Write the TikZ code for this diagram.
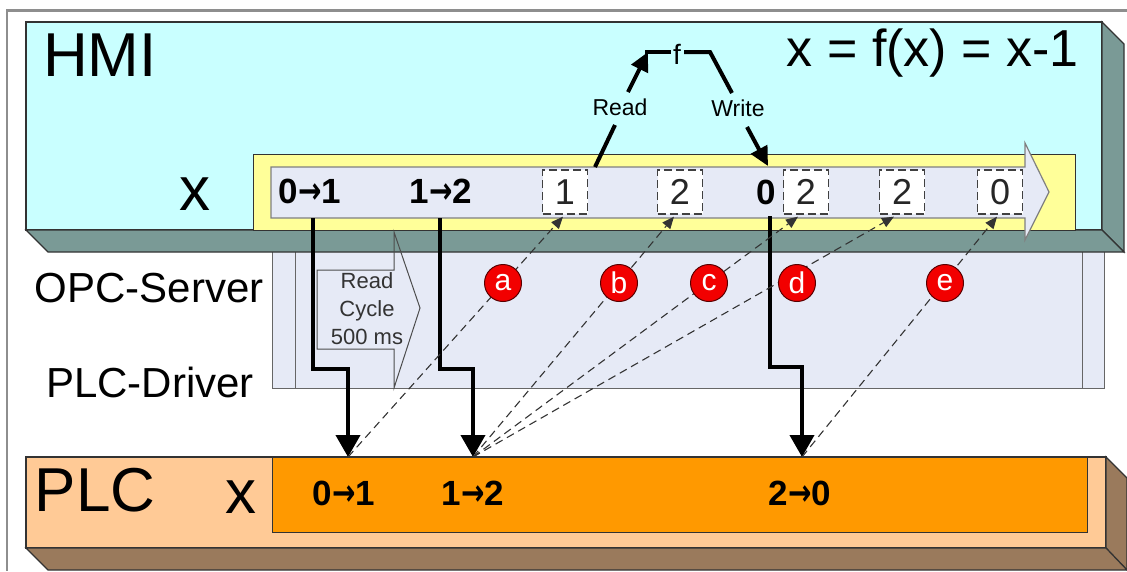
\documentclass[tikz,border=0pt]{standalone}
\usepackage{graphicx}
\usepackage{fontspec}
\setmainfont{Liberation Sans}
\newfontfamily\arrowfont{DejaVu Sans}
\usetikzlibrary{arrows.meta,calc}

\definecolor{hmiface}{HTML}{C9FFFF}
\definecolor{hmiside}{HTML}{7A9A96}
\definecolor{hmiyellow}{HTML}{FFFF99}
\definecolor{lavender}{HTML}{E6EAF6}
\definecolor{plcface}{HTML}{FFCA96}
\definecolor{plcorange}{HTML}{FF9900}
\definecolor{plcside}{HTML}{9A7A5C}
\definecolor{framegray}{HTML}{8E8E8E}
\definecolor{edgecol}{HTML}{333333}
\definecolor{markred}{HTML}{F20000}

\newcommand{\fsz}[1]{\fontsize{#1}{#1}\selectfont}
\newcommand{\tr}{{\arrowfont\bfseries\scalebox{0.8}[1.05]{→}}}

\begin{document}
\begin{tikzpicture}[x=1pt,y=-1pt,
  box edge/.style={draw=edgecol, line width=1.2pt, line join=miter},
  bigtitle/.style={inner sep=0pt, font=\fsz{62}},
  sidelabel/.style={inner sep=0pt, font=\fsz{42}},
  smalllabel/.style={inner sep=0pt, font=\fsz{23}},
  cyclelabel/.style={inner sep=0pt, font=\fsz{22}, text=black!80, anchor=base},
  transition/.style={inner sep=0pt, font=\fsz{35}\bfseries},
  valbox/.style={draw=black!75, dash pattern=on 8pt off 4pt, line width=1.3pt,
    fill=white, minimum width=45pt, minimum height=44pt, inner sep=0pt,
    font=\fsz{36}, text=black!85},
  marker/.style={circle, fill=markred, draw=red!35!black, line width=1pt,
    minimum size=37pt, inner sep=0pt, text=white, font=\fsz{30}},
  flow/.style={line width=4pt, line join=miter, -{Triangle[width=24pt,length=22pt]}},
  rw/.style={line width=4pt},
  rwtip/.style={rw, -{Triangle[width=18pt,length=19pt]}},
  readback/.style={draw=black!80, line width=1.1pt, dash pattern=on 8pt off 5pt,
    -{Triangle[width=10pt,length=12pt]}}
]
\useasboundingbox (0,0) rectangle (1127,571);

% outer frame
\draw[framegray, line width=3pt] (6,10) -- (1127,10);
\draw[framegray, line width=2pt] (7,10) -- (7,571);

% OPC server / PLC driver panel
\draw[fill=lavender, draw=black!60, line width=1pt] (272,246) rectangle (1104,388);
\draw[black!60, line width=1pt] (295,246) -- (295,388) (1082,246) -- (1082,388);

% HMI block
\draw[box edge, fill=hmiface] (26,22) rectangle (1102,230);
\draw[box edge, fill=hmiside] (1102,22) -- (1124,44) -- (1124,252) -- (1102,230) -- cycle;
\draw[box edge, fill=hmiside] (26,230) -- (1102,230) -- (1124,252) -- (48,252) -- cycle;

% variable strip with time arrow
\draw[draw=edgecol, line width=1pt, fill=hmiyellow] (253,154) rectangle (1075,230);
\draw[fill=lavender, draw=black!50, line width=1.2pt, line join=miter]
  (271,167) -- (1025,167) -- (1025,143) -- (1049,192) -- (1025,240) -- (1025,218) -- (271,218) -- cycle;

% read cycle arrow
\draw[draw=black!70, line width=1pt, line join=miter]
  (317,270) -- (394,270) -- (394,232) -- (420,308) -- (394,388) -- (394,349) -- (317,349) -- cycle;
\node[cyclelabel] (rc1) at (367,288) {Read};
\node[cyclelabel] (rc2) at (367,316) {Cycle};
\node[cyclelabel] (rc3) at (367,344) {500 ms};

% PLC block
\draw[box edge, fill=plcface] (26,457) rectangle (1106,548);
\draw[box edge, fill=plcside] (1106,457) -- (1127,478) -- (1127,570) -- (1106,548) -- cycle;
\draw[box edge, fill=plcside] (26,548) -- (1106,548) -- (1127,570) -- (48,570) -- cycle;
\draw[draw=edgecol, line width=1pt, fill=plcorange] (272,457) rectangle (1087,532);

% labels
\node[bigtitle] (hmi) at (100,55) {HMI};
\node[bigtitle] (hx) at (195,194) {x};
\node[inner sep=0pt, font=\fsz{52}, anchor=base east] (formula) at (1079,66) {x = f(x) = x-1};
\node[inner sep=0pt, font=\fsz{28}] (fn) at (677,54) {f};
\node[smalllabel] (rd) at (620,107) {Read};
\node[smalllabel] (wr) at (738,108) {Write};
\node[sidelabel] (opc) at (149,288) {OPC-Server};
\node[sidelabel] (drv) at (150,382) {PLC-Driver};
\node[bigtitle] (plc) at (95,490) {PLC};
\node[bigtitle] (px) at (241,497) {x};

% values seen by the HMI
\node[transition] (h01) at (310,191) {0\tr 1};
\node[transition] (h12) at (441,191) {1\tr 2};
\node[transition] (h0) at (766,192) {0};
\node[valbox] (v1) at (565,192) {1};
\node[valbox] (v2) at (680,192) {2};
\node[valbox] (v3) at (806,192) {2};
\node[valbox] (v4) at (902,192) {2};
\node[valbox] (v5) at (1000,192) {0};

% values in the PLC
\node[transition] (q01) at (344,493) {0\tr 1};
\node[transition] (q12) at (473,493) {1\tr 2};
\node[transition] (q20) at (800,493) {2\tr 0};

% read / write through f
\coordinate (rwa) at (595,167);
\coordinate (rwb) at (615,125);
\coordinate (rwc) at (628,92);
\coordinate (rwd) at (648,52);
\coordinate (rwe) at (645,52);
\coordinate (rwf) at (671,52);
\coordinate (rwg) at (684,52);
\coordinate (rwh) at (710,52);
\coordinate (rwi) at (732,93);
\coordinate (rwj) at (747,127);
\coordinate (rwk) at (768,166);
\draw[rw] (rwa) -- (rwb);
\draw[rwtip] (rwc) -- (rwd);
\draw[rw] (rwe) -- (rwf);
\draw[rw, line join=miter] (rwg) -- (rwh) -- (rwi);
\draw[rwtip] (rwj) -- (rwk);

% writes down to the PLC
\coordinate (s1) at (313,218);
\coordinate (s2) at (440,218);
\coordinate (s3) at (770,216);
\coordinate (p1) at (348,457);
\coordinate (p2) at (473,457);
\coordinate (p3) at (802,457);
\draw[flow] (s1) -- ++(0,151) -| (p1);
\draw[flow] (s2) -- ++(0,151) -| (p2);
\draw[flow] (s3) -- ++(0,151) -| (p3);

% cyclic reads back to the HMI
\draw[readback] (p1) -- ([xshift=-2pt,yshift=-2pt]v1.south);
\draw[readback] (p2) -- ([xshift=-6pt,yshift=-2pt]v2.south);
\draw[readback] (p2) -- ([xshift=-8pt,yshift=-2pt]v3.south);
\draw[readback] (p2) -- ([xshift=-8pt,yshift=-2pt]v4.south);
\draw[readback] (p3) -- ([xshift=-3pt,yshift=-2pt]v5.south);

% markers
\node[marker] (ca) at (503,283) {a};
\node[marker] (cb) at (619,283) {b};
\node[marker] (cc) at (709,283) {c};
\node[marker] (cd) at (797,283) {d};
\node[marker] (ce) at (945,283) {e};
\end{tikzpicture}
\end{document}
